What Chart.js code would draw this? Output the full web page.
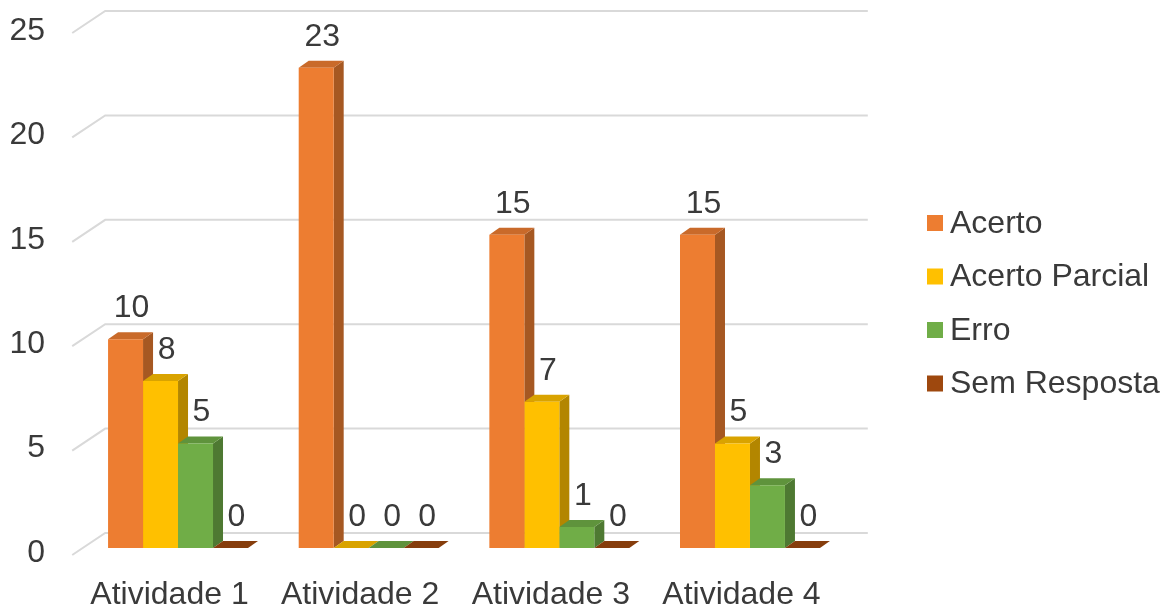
<!DOCTYPE html>
<html>
<head>
<meta charset="utf-8">
<script src="https://cdn.jsdelivr.net/npm/chart.js@4.4.1/dist/chart.umd.min.js"></script>
<style>
  html, body { margin: 0; padding: 0; background: #fff; }
  #wrap { width: 1173px; height: 609px; position: relative; }
</style>
</head>
<body>
<div id="wrap"><canvas id="chart"></canvas></div>
<script>
const categories = ['Atividade 1', 'Atividade 2', 'Atividade 3', 'Atividade 4'];
const seriesNames = ['Acerto', 'Acerto Parcial', 'Erro', 'Sem Resposta'];
const acerto = [10, 23, 15, 15];
const acertoParcial = [8, 0, 7, 5];
const erro = [5, 0, 1, 3];
const semResposta = [0, 0, 0, 0];
const yTicks = [0, 5, 10, 15, 20, 25];

const FONT = '"Liberation Sans", Arial, sans-serif';
const FONT_SIZE = 32;
const TEXT = '#3a3a3a';
const GRID = '#d9d9d9';
const colors = ['#ED7D31', '#FFC000', '#70AD47', '#9E480E'];

// bar depth and floor depth, in screen pixels
const BAR_DX = 10, BAR_DY = -7;
const FLOOR_FRONT = { dx: -10.5, dy: 7 };
const WALL = { dx: 22.5, dy: -15 };

function shade(hex, f) {
  const n = parseInt(hex.slice(1), 16);
  const r = Math.round(((n >> 16) & 255) * f);
  const g = Math.round(((n >> 8) & 255) * f);
  const b = Math.round((n & 255) * f);
  return `rgb(${r},${g},${b})`;
}

function poly(ctx, pts, fill) {
  ctx.beginPath();
  ctx.moveTo(pts[0][0], pts[0][1]);
  for (let i = 1; i < pts.length; i++) ctx.lineTo(pts[i][0], pts[i][1]);
  ctx.closePath();
  ctx.fillStyle = fill;
  ctx.fill();
}

const walls3d = {
  id: 'walls3d',
  beforeDatasetsDraw(chart) {
    const { ctx, chartArea: a, scales: { y } } = chart;
    ctx.save();
    ctx.strokeStyle = GRID;
    ctx.lineWidth = 2;
    yTicks.forEach(v => {
      const py = y.getPixelForValue(v);
      ctx.beginPath();
      ctx.moveTo(a.left + FLOOR_FRONT.dx, py + FLOOR_FRONT.dy);
      ctx.lineTo(a.left + WALL.dx, py + WALL.dy);
      ctx.lineTo(a.right + WALL.dx, py + WALL.dy);
      ctx.stroke();
    });

    // side and top faces; the fronts are drawn by the bar controller afterwards
    chart.data.datasets.forEach((ds, di) => {
      const meta = chart.getDatasetMeta(di);
      const base = colors[di];
      meta.data.forEach(bar => {
        const L = bar.x - bar.width / 2, R = bar.x + bar.width / 2;
        const top = bar.y, bottom = bar.base;
        poly(ctx, [[R, top], [R + BAR_DX, top + BAR_DY], [R + BAR_DX, bottom + BAR_DY], [R, bottom]], shade(base, 0.7));
        poly(ctx, [[L, top], [L + BAR_DX, top + BAR_DY], [R + BAR_DX, top + BAR_DY], [R, top]], shade(base, 0.85));
      });
    });
    ctx.restore();
  },
  afterDatasetsDraw(chart) {
    const { ctx } = chart;
    ctx.save();
    ctx.font = `${FONT_SIZE}px ${FONT}`;
    ctx.fillStyle = TEXT;
    ctx.textAlign = 'center';
    ctx.textBaseline = 'middle';
    chart.data.datasets.forEach((ds, di) => {
      chart.getDatasetMeta(di).data.forEach((bar, i) => {
        ctx.fillText(String(ds.data[i]), bar.x + 6, bar.y - 31);
      });
    });

    // legend
    ctx.textAlign = 'left';
    seriesNames.forEach((name, i) => {
      const cy = 223 + i * 53.5;
      ctx.fillStyle = colors[i];
      ctx.fillRect(927, cy - 8, 16, 16);
      ctx.fillStyle = TEXT;
      ctx.fillText(name, 950, cy + 1);
    });
    ctx.restore();
  }
};

const seriesData = [acerto, acertoParcial, erro, semResposta];

new Chart(document.getElementById('chart'), {
  type: 'bar',
  data: {
    labels: categories,
    datasets: seriesNames.map((name, i) => ({
      label: name,
      data: seriesData[i],
      backgroundColor: colors[i],
      borderWidth: 0,
      categoryPercentage: 0.734,
      barPercentage: 1
    }))
  },
  options: {
    responsive: true,
    maintainAspectRatio: false,
    animation: false,
    events: [],
    layout: { padding: { top: 26, right: 327.7, bottom: 0, left: 0 } },
    plugins: {
      legend: { display: false },
      tooltip: { enabled: false }
    },
    scales: {
      x: {
        grid: { display: false, drawTicks: false },
        border: { display: false },
        ticks: {
          color: TEXT,
          font: { family: FONT, size: FONT_SIZE },
          padding: 28,
          labelOffset: -8.5,
          maxRotation: 0
        },
        afterFit(scale) { scale.height = 61; }
      },
      y: {
        min: 0,
        max: 25,
        grid: { display: false, drawTicks: false },
        border: { display: false },
        afterBuildTicks(scale) { scale.ticks = yTicks.map(v => ({ value: v })); },
        ticks: {
          color: TEXT,
          font: { family: FONT, size: FONT_SIZE },
          padding: 37.7,
          labelOffset: 5
        },
        afterFit(scale) {
          scale.width = 82.7;
          scale.paddingTop = 0;
          scale.paddingBottom = 0;
        }
      }
    }
  },
  plugins: [walls3d]
});
</script>
</body>
</html>
